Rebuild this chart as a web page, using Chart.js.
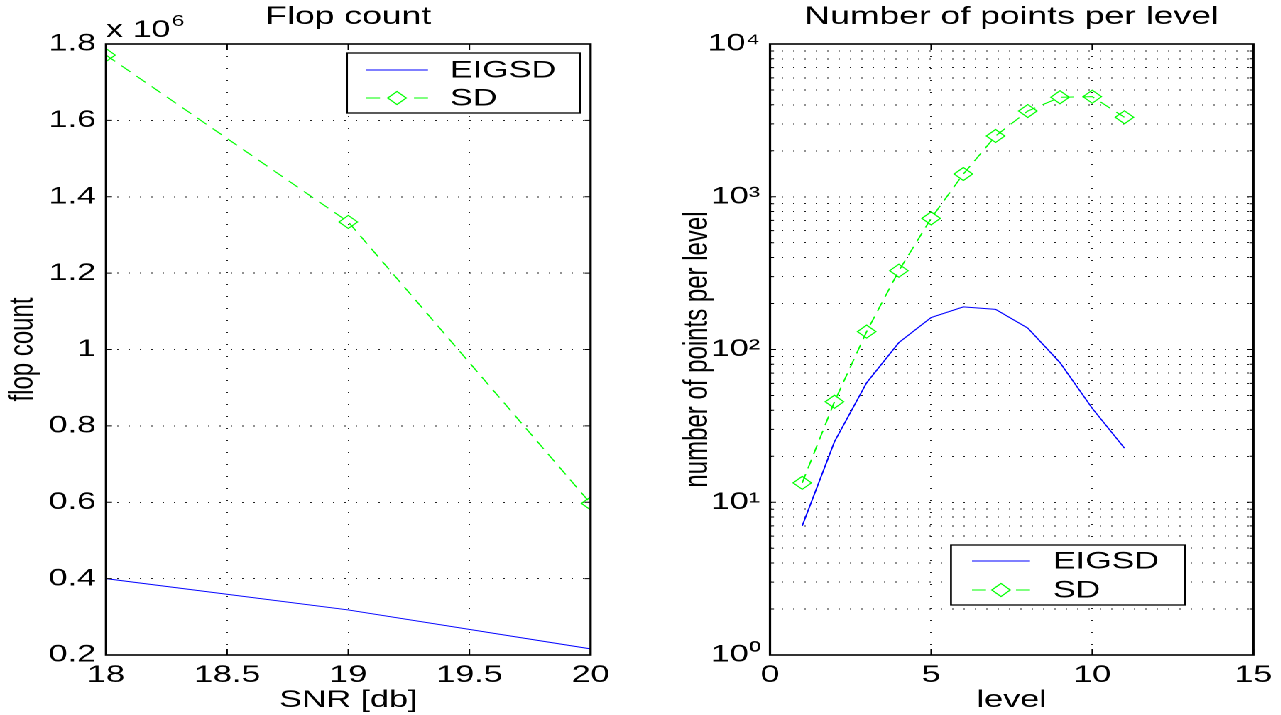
<!DOCTYPE html>
<html>
<head>
<meta charset="utf-8">
<script src="https://cdn.jsdelivr.net/npm/chart.js@4.4.1/dist/chart.umd.min.js"></script>
<style>
  html, body { margin: 0; padding: 0; background: #fff; overflow: hidden; }
  #page { position: absolute; left: 0; top: 0; height: 715px; transform-origin: 0 0; }
  #page canvas { position: absolute; top: 0; }
</style>
</head>
<body>
<div id="page">
  <canvas id="flopChart"></canvas>
  <canvas id="levelChart"></canvas>
</div>
<script>
// left panel: flop count against SNR
const snrDb = [18, 19, 20];
const eigsdFlops = [400000, 318000, 216000];
const sdFlops = [1771000, 1334000, 597000];
const snrTickLabels = ['18', '18.5', '19', '19.5', '20'];
const flopTickLabels = ['0.2', '0.4', '0.6', '0.8', '1', '1.2', '1.4', '1.6', '1.8'];

// right panel: number of points per level
const levels = [1, 2, 3, 4, 5, 6, 7, 8, 9, 10, 11];
const eigsdPoints = [7.0, 24.9, 60.6, 111, 162, 190, 183, 138, 82, 41.2, 22.6];
const sdPoints = [13.4, 45.5, 131, 328, 722, 1409, 2500, 3641, 4480, 4520, 3313];
const levelTickLabels = ['0', '5', '10', '15'];
const countTickLabels = ['10\u2070', '10\u00b9', '10\u00b2', '10\u00b3', '10\u2074'];

// the old figure is stretched sideways, so draw narrow and widen the page
const S = 1.42;
const FONT = "'Liberation Sans', Arial, Helvetica, sans-serif";
const PLOT_TOP = 44, PLOT_BOTTOM = 655;

Chart.defaults.font.family = FONT;
Chart.defaults.font.size = 24;
Chart.defaults.color = '#000';

document.getElementById('page').style.width = (1281 / S) + 'px';
document.getElementById('page').style.transform = 'scaleX(' + S + ')';

function setupCanvas(id, left, right) {
  const c = document.getElementById(id);
  const l = Math.round(left / S), w = Math.round((right - left) / S);
  c.width = w; c.height = 715;
  c.style.left = l + 'px';
  c.style.width = w + 'px';
  c.style.height = '715px';
  return l * S;   // where the canvas really starts on the page
}

const pts = (xs, ys) => xs.map((x, i) => ({x: x, y: ys[i]}));

// box, inward ticks and a title centred on the axes, like matlab
const matlabFrame = {
  id: 'matlabFrame',
  afterDatasetsDraw(chart, args, o) {
    const {ctx, chartArea: a, scales} = chart;
    const xs = scales.x, ys = scales.y;
    ctx.save();
    ctx.strokeStyle = '#000';
    ctx.lineWidth = 1;
    ctx.beginPath();
    xs.ticks.forEach(t => {
      const px = xs.getPixelForValue(t.value);
      ctx.moveTo(px, a.bottom); ctx.lineTo(px, a.bottom - 6);
      ctx.moveTo(px, a.top); ctx.lineTo(px, a.top + 6);
    });
    ys.ticks.forEach(t => {
      const py = ys.getPixelForValue(t.value);
      const len = (t.major === false ? 4 : 6) / S;
      ctx.moveTo(a.left, py); ctx.lineTo(a.left + len, py);
      ctx.moveTo(a.right, py); ctx.lineTo(a.right - len, py);
    });
    ctx.stroke();
    ctx.lineWidth = 1.6;
    ctx.strokeRect(a.left, a.top, a.right - a.left, a.bottom - a.top);

    ctx.fillStyle = '#000';
    ctx.font = '25px ' + FONT;
    ctx.textAlign = 'center';
    ctx.textBaseline = 'middle';
    ctx.fillText(o.title, (a.left + a.right) / 2, 17);
    ctx.restore();
  }
};

function diamond(ctx, x, y, r) {
  ctx.beginPath();
  ctx.moveTo(x - r, y); ctx.lineTo(x, y - r); ctx.lineTo(x + r, y); ctx.lineTo(x, y + r);
  ctx.closePath();
  ctx.stroke();
}

// legend in a white box inside the axes
const boxLegend = {
  id: 'boxLegend',
  afterDraw(chart, args, o) {
    const ctx = chart.ctx;
    const X = v => (v - o.offset) / S;
    ctx.save();
    ctx.fillStyle = '#fff';
    ctx.fillRect(X(o.x0), o.y0, X(o.x1) - X(o.x0), o.y1 - o.y0);
    ctx.strokeStyle = '#000';
    ctx.lineWidth = 1.3;
    ctx.strokeRect(X(o.x0), o.y0, X(o.x1) - X(o.x0), o.y1 - o.y0);
    ctx.font = '24px ' + FONT;
    ctx.textBaseline = 'middle';
    chart.data.datasets.forEach((ds, i) => {
      const y = o.rows[i];
      ctx.strokeStyle = ds.borderColor;
      ctx.lineWidth = ds.borderWidth;
      ctx.beginPath();
      if (ds.borderDash) {
        ctx.moveTo(X(o.lineX0), y); ctx.lineTo(X(o.lineX0 + 14), y);
        ctx.moveTo(X(o.lineX1), y); ctx.lineTo(X(o.lineX1 - 14), y);
      } else {
        ctx.moveTo(X(o.lineX0), y); ctx.lineTo(X(o.lineX1), y);
      }
      ctx.stroke();
      if (ds.pointRadius > 0) {
        ctx.strokeStyle = ds.pointBorderColor;
        ctx.lineWidth = ds.pointBorderWidth;
        diamond(ctx, X(o.markX), y, ds.pointRadius);
      }
      ctx.fillStyle = '#000';
      ctx.fillText(ds.label, X(o.textX), y + 1);
    });
    ctx.restore();
  }
};

// the "x 10^6" factor over the left axis
const scaleFactor = {
  id: 'scaleFactor',
  afterDraw(chart, args, o) {
    if (!o.show) return;
    const ctx = chart.ctx;
    const x = (o.x - o.offset) / S;
    ctx.save();
    ctx.fillStyle = '#000';
    ctx.textBaseline = 'alphabetic';
    ctx.font = '24px ' + FONT;
    ctx.fillText('x 10', x, o.y);
    const w = ctx.measureText('x 10').width;
    ctx.font = '16px ' + FONT;
    ctx.fillText('6', x + w + 1, o.y - 11);
    ctx.restore();
  }
};

const gridX = {color: '#222', lineWidth: 1, drawTicks: false};
const gridY = {color: '#222', lineWidth: 1, drawTicks: false};

// ---------- left chart ----------
const offL = setupCanvas('flopChart', 0, 638);
new Chart(document.getElementById('flopChart'), {
  type: 'line',
  data: {
    datasets: [{
      label: 'EIGSD',
      data: pts(snrDb, eigsdFlops),
      borderColor: '#0000ff',
      borderWidth: 1,
      pointRadius: 0,
      tension: 0
    }, {
      label: 'SD',
      data: pts(snrDb, sdFlops),
      borderColor: '#00ff00',
      borderWidth: 1,
      borderDash: [9, 6],
      pointStyle: 'rectRot',
      pointRadius: 6.5,
      pointBorderColor: '#00ff00',
      pointBackgroundColor: 'rgba(0,0,0,0)',
      pointBorderWidth: 1,
      tension: 0
    }]
  },
  options: {
    responsive: false,
    animation: false,
    devicePixelRatio: 2,
    events: [],
    layout: {padding: {top: PLOT_TOP, left: 0, bottom: 0, right: (638 - 591) / S}},
    plugins: {
      legend: {display: false},
      tooltip: {enabled: false},
      matlabFrame: {title: 'Flop count'},
      boxLegend: {offset: offL, x0: 347, x1: 580, y0: 53, y1: 113, rows: [70, 98],
                  lineX0: 366, lineX1: 428, markX: 397, textX: 450},
      scaleFactor: {show: true, offset: offL, x: 106, y: 37}
    },
    scales: {
      x: {
        type: 'linear', min: 18, max: 20,
        ticks: {stepSize: 0.5, autoSkip: false, maxRotation: 0, padding: 6,
                callback: (v, i) => snrTickLabels[i]},
        grid: gridX,
        border: {display: false, dash: [1, 11]},
        title: {display: true, text: 'SNR [db]', padding: {top: 0, bottom: 0}},
        afterFit: s => { s.height = 715 - PLOT_BOTTOM; }
      },
      y: {
        type: 'linear', min: 200000, max: 1800000,
        ticks: {stepSize: 200000, autoSkip: false, padding: 7,
                callback: (v, i) => flopTickLabels[i]},
        grid: gridY,
        border: {display: false, dash: [1, 7]},
        title: {display: true, text: 'flop count', padding: {top: 2, bottom: 0}},
        afterFit: s => { s.width = (106 - offL) / S; }
      }
    }
  },
  plugins: [matlabFrame, boxLegend, scaleFactor]
});

// ---------- right chart ----------
const offR = setupCanvas('levelChart', 638, 1281);
new Chart(document.getElementById('levelChart'), {
  type: 'line',
  data: {
    datasets: [{
      label: 'EIGSD',
      data: pts(levels, eigsdPoints),
      borderColor: '#0000ff',
      borderWidth: 1,
      pointRadius: 0,
      tension: 0
    }, {
      label: 'SD',
      data: pts(levels, sdPoints),
      borderColor: '#00ff00',
      borderWidth: 1,
      borderDash: [9, 6],
      pointStyle: 'rectRot',
      pointRadius: 6.5,
      pointBorderColor: '#00ff00',
      pointBackgroundColor: 'rgba(0,0,0,0)',
      pointBorderWidth: 1,
      tension: 0
    }]
  },
  options: {
    responsive: false,
    animation: false,
    devicePixelRatio: 2,
    events: [],
    layout: {padding: {top: PLOT_TOP, left: 0, bottom: 0, right: (1281 - 1254) / S}},
    plugins: {
      legend: {display: false},
      tooltip: {enabled: false},
      matlabFrame: {title: 'Number of points per level'},
      boxLegend: {offset: offR, x0: 951, x1: 1185, y0: 545, y1: 605, rows: [561, 590],
                  lineX0: 972, lineX1: 1030, markX: 1001, textX: 1053},
      scaleFactor: {show: false}
    },
    scales: {
      x: {
        type: 'linear', min: 0, max: 15,
        ticks: {stepSize: 5, autoSkip: false, maxRotation: 0, padding: 6,
                callback: (v, i) => levelTickLabels[i]},
        grid: gridX,
        border: {display: false, dash: [1, 11]},
        title: {display: true, text: 'level', padding: {top: 0, bottom: 0}},
        afterFit: s => { s.height = 715 - PLOT_BOTTOM; }
      },
      y: {
        type: 'logarithmic', min: 1, max: 10000,
        afterBuildTicks: s => {
          const t = [];
          for (let e = 0; e < 4; e++) {
            for (let m = 1; m < 10; m++) t.push({value: m * Math.pow(10, e), major: m === 1});
          }
          t.push({value: 10000, major: true});
          s.ticks = t;
        },
        ticks: {autoSkip: false, padding: 7,
                callback: v => {
                  const e = Math.round(Math.log10(v));
                  return Math.pow(10, e) === v ? countTickLabels[e] : '';
                }},
        grid: gridY,
        border: {display: false, dash: [1, 7]},
        title: {display: true, text: 'number of points per level', padding: {top: 28, bottom: 0}},
        afterFit: s => { s.width = (770 - offR) / S; }
      }
    }
  },
  plugins: [matlabFrame, boxLegend, scaleFactor]
});
</script>
</body>
</html>
